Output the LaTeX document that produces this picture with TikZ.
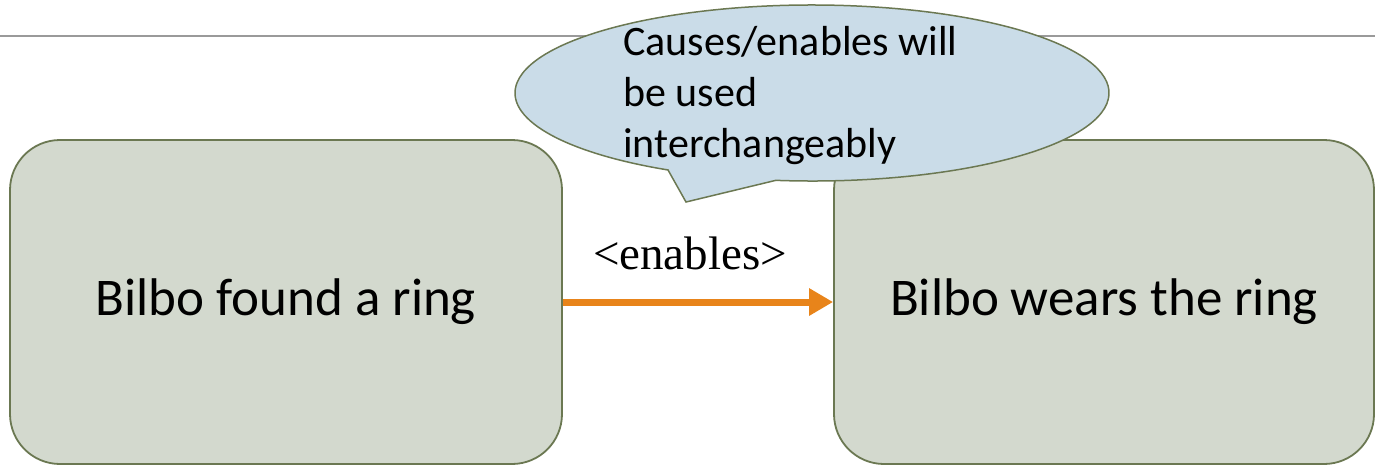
\documentclass[tikz,border=0pt]{standalone}
\usepackage{fontspec}
\setmainfont{Carlito}
\newfontfamily\labelserif{Liberation Serif}
\usetikzlibrary{arrows.meta,calc}
\definecolor{boxfill}{HTML}{D3D9CE}
\definecolor{boxline}{HTML}{6B7852}
\definecolor{bubblefill}{HTML}{CADCE8}
\definecolor{arrorange}{HTML}{E8841A}
\definecolor{rulegray}{HTML}{9A9A9A}
\tikzset{
  eventbox/.style={draw=boxline, fill=boxfill, line width=1.8pt, rounded corners=50pt,
    minimum height=324pt, inner sep=0pt, font=\fontsize{53}{60}\selectfont},
  enablearrow/.style={draw=arrorange, line width=7pt, -{Triangle[length=24pt,width=26pt]}},
  bubble/.style={fill=bubblefill, draw=boxline, line width=1.5pt},
  bubbletext/.style={align=left, inner sep=0pt, anchor=base west, font=\fontsize{42}{51}\selectfont},
  relabel/.style={inner sep=0pt, anchor=base, font=\labelserif\fontsize{47}{50}\selectfont}
}
\begin{document}
\begin{tikzpicture}[x=1pt,y=1pt]
\useasboundingbox (0,0) rectangle (1375,-466);
% rule line
\draw[rulegray, line width=1.3pt] (0,-36) -- (1375,-36);
% boxes
\node[eventbox, minimum width=552pt] (found) at (286,-302) {Bilbo found a ring};
\node[eventbox, minimum width=540pt] (wears) at (1104,-302) {Bilbo wears the ring};
% arrow
\draw[enablearrow] (found.east) -- (wears.west);
\node[relabel] (rel) at (690,-269) {<enables>};
% callout
\coordinate (bc) at (812,-93);
\coordinate (tip) at (686,-202);
\path[bubble] ($(bc)+(-97:297pt and 88pt)$) arc[start angle=-97, end angle=241, x radius=297pt, y radius=88pt] -- (tip) -- cycle;
\node[bubbletext] (note) at (623,-157) {Causes/enables will\\be used\\interchangeably};
\end{tikzpicture}
\end{document}
